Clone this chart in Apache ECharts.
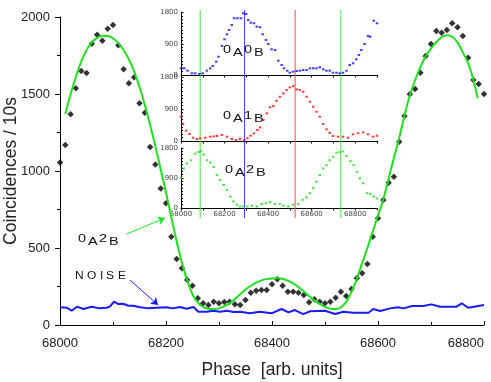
<!DOCTYPE html>
<html>
<head>
<meta charset="utf-8">
<script src="https://cdn.jsdelivr.net/npm/echarts@6/dist/echarts.min.js"></script>
<style>
  html, body { margin: 0; padding: 0; background: #fff; }
  #chart { width: 491px; height: 382px; }
</style>
</head>
<body>
<div id="chart"></div>
<script>
// main panel: measured coincidences (black diamonds)
const phase = [68000,68010,68020,68030,68040,68050,68060,68070,68080,68090,68100,68110,68120,68130,68140,68150,68160,68170,68180,68190,68200,68210,68220,68230,68240,68250,68260,68270,68280,68290,68300,68310,68320,68330,68340,68350,68360,68370,68380,68390,68400,68410,68420,68430,68440,68450,68460,68470,68480,68490,68500,68510,68520,68530,68540,68550,68560,68570,68580,68590,68600,68610,68620,68630,68640,68650,68660,68670,68680,68690,68700,68710,68720,68730,68740,68750,68760,68770,68780,68790,68800];
const counts = [1056,1169,1368,1537,1649,1636,1827,1885,1846,1924,1948,1816,1660,1569,1608,1440,1379,1156,1043,887,790,573,429,368,292,255,173,141,130,151,141,149,151,134,130,162,210,223,227,227,264,297,255,216,216,210,195,147,167,151,141,151,177,216,188,234,303,336,396,573,693,812,924,963,1190,1357,1498,1532,1638,1747,1825,1909,1898,1916,1959,1933,1877,1736,1591,1565,1500];

// fitted curve (green)
const fitPhase = [68010,68020,68030,68040,68050,68060,68070,68080,68090,68100,68110,68120,68130,68140,68150,68160,68170,68180,68190,68200,68210,68220,68230,68240,68250,68260,68270,68280,68290,68300,68320,68340,68360,68380,68400,68410,68420,68440,68460,68480,68500,68510,68520,68530,68540,68550,68560,68570,68580,68590,68600,68610,68620,68630,68640,68650,68660,68670,68680,68690,68700,68710,68720,68730,68740,68750,68760,68770,68780,68788];
const fitCounts = [1370,1500,1610,1710,1785,1835,1865,1878,1876,1862,1830,1786,1725,1645,1545,1430,1300,1160,1010,860,700,545,405,290,200,145,118,106,104,108,140,200,255,290,302,304,300,270,218,160,117,106,104,115,150,215,300,400,500,605,710,815,950,1085,1215,1360,1490,1590,1675,1745,1795,1838,1868,1882,1872,1835,1770,1700,1591,1472];

// noise (blue line)
const noisePhase = [68000,68013,68022,68032,68044,68060,68075,68088,68094,68102,68110,68119,68129,68138,68151,68167,68182,68201,68213,68226,68239,68252,68261,68277,68289,68302,68315,68327,68340,68358,68377,68399,68418,68431,68443,68459,68472,68500,68519,68535,68553,68582,68591,68604,68623,68638,68648,68664,68685,68701,68717,68748,68758,68770,68800];
const noiseCounts = [115,112,93,119,104,119,108,112,119,151,136,138,125,125,115,108,112,115,108,117,106,117,86,86,93,86,93,84,86,76,86,76,104,82,97,71,89,93,71,86,80,80,104,91,108,115,108,123,123,134,119,119,141,112,130];

// inset: 0A0B (blue)
const phaseA0B0 = [68000,68015,68030,68050,68065,68085,68100,68119,68134,68146,68162,68172,68188,68200,68211,68221,68233,68244,68259,68275,68286,68299,68309,68320,68335,68348,68363,68375,68390,68401,68416,68432,68447,68462,68473,68488,68500,68515,68531,68546,68561,68577,68592,68607,68622,68637,68653,68668,68683,68698,68714,68729,68744,68760,68775,68790,68805,68817,68828,68843,68859,68869,68885,68900];
const countsA0B0 = [193,193,124,49,49,29,49,124,193,259,383,527,836,1028,1173,1297,1441,1634,1634,1634,1778,1758,1585,1507,1490,1392,1375,1173,1009,893,740,720,412,288,193,124,66,95,115,124,144,144,193,193,193,222,164,124,124,66,66,49,66,124,288,337,452,576,720,893,1124,1104,1565,1490];

// inset: 0A1B (red)
const phaseA1B = [68000,68009,68023,68039,68055,68073,68088,68111,68134,68150,68165,68188,68211,68233,68253,68271,68290,68305,68320,68335,68351,68363,68378,68394,68409,68424,68439,68454,68470,68485,68500,68515,68531,68546,68561,68577,68592,68607,68622,68637,68653,68668,68683,68698,68721,68744,68767,68790,68813,68836,68859,68882,68900];
const countsA1B = [683,478,289,197,93,56,76,93,121,130,140,169,121,56,28,56,28,76,149,216,309,380,590,778,947,983,1132,1244,1340,1433,1508,1545,1452,1433,1385,1244,1104,963,823,683,480,330,230,140,121,121,93,188,216,244,188,121,149];

// inset: 0A2B (green)
const phaseA2B = [68000,68012,68027,68046,68065,68081,68092,68104,68119,68134,68150,68165,68180,68196,68211,68226,68241,68256,68271,68286,68305,68325,68348,68371,68390,68409,68432,68454,68470,68493,68515,68538,68558,68577,68592,68607,68622,68637,68653,68668,68683,68698,68714,68729,68744,68760,68778,68793,68808,68821,68836,68854,68869,68885,68900];
const countsA2B = [908,1187,1335,1433,1632,1680,1700,1602,1433,1365,1234,988,840,691,543,344,196,98,47,47,47,68,47,119,148,178,119,119,68,47,98,119,246,315,445,593,789,988,1187,1285,1433,1531,1662,1680,1700,1561,1404,1285,1086,890,742,445,424,344,285];

// reference phases marked across the inset
const markerPhase = [68088, 68292, 68524, 68734];
const markerColor = ['#3be83b', '#3a3aff', '#ff4a4a', '#3be83b'];

// arrows: [from, to] in data coords of the main panel
const arrowA2B = [[68126, 591], [68198, 695]];
const arrowNoise = [[68132, 292], [68185, 130]];

const zip = (xs, ys) => xs.map((x, i) => [x, ys[i]]);
const plain = v => String(v);

const chart = echarts.init(document.getElementById('chart'), null, { renderer: 'canvas' });

const insetLeft = 181, insetWidth = 196;

function insetX(idx, showLabels) {
  return {
    type: 'value', gridIndex: idx, min: 68000, max: 68900, interval: 200,
    axisLine: { show: true, onZero: false, lineStyle: { color: '#000', width: 1 } },
    axisTick: { show: true, length: 2.5, lineStyle: { color: '#000' } },
    minorTick: { show: true, splitNumber: 2, length: 2.5, lineStyle: { color: '#000' } },
    splitLine: { show: false },
    axisLabel: { show: showLabels, fontSize: 7, color: '#444', margin: 3, fontFamily: 'DejaVu Sans', formatter: plain }
  };
}
function insetY(idx) {
  return {
    type: 'value', gridIndex: idx, min: 0, max: 1800, interval: 900,
    axisLine: { show: true, lineStyle: { color: '#000', width: 1 } },
    axisTick: { show: true, inside: true, length: 2.5, lineStyle: { color: '#000' } },
    minorTick: { show: true, splitNumber: 9, length: 2, lineStyle: { color: '#000' } },
    splitLine: { show: false },
    axisLabel: { fontSize: 7, color: '#444', margin: 3, fontFamily: 'DejaVu Sans', formatter: plain }
  };
}

// labels like 0A2B: digits up, letters lowered
function stateLabel(chars, x0, top) {
  const offs = [0, 10, 21, 31];
  return chars.map((c, i) => ({
    type: 'text', x: x0 + offs[i], y: top + (i % 2 ? 3 : 0) - 2, scaleX: 1.45, z: 50,
    style: { text: c, font: '10px "Liberation Sans"', fill: '#111' }
  }));
}

const noiseLetters = [['N', 75], ['O', 87], ['I', 100], ['S', 106], ['E', 118]].map(([c, x]) => ({
  type: 'text', x: x, y: 271, scaleX: 1.2, z: 50,
  style: { text: c, font: '10px "Liberation Sans"', fill: '#111' }
}));

const markerSeries = markerPhase.map((p, i) => ({
  type: 'line', xAxisIndex: 4, yAxisIndex: 4, data: [[p, 0], [p, 1]],
  showSymbol: false, silent: true, z: 4,
  lineStyle: { color: markerColor[i], width: 1 }
}));

const option = {
  animation: false,
  backgroundColor: '#fff',
  grid: [
    { left: 60, top: 17, width: 424, height: 308, outerBoundsMode: 'none' },
    { left: insetLeft, top: 12.5, width: insetWidth, height: 62.5, outerBoundsMode: 'none' },
    { left: insetLeft, top: 77, width: insetWidth, height: 64, outerBoundsMode: 'none' },
    { left: insetLeft, top: 148, width: insetWidth, height: 60, outerBoundsMode: 'none' },
    { left: insetLeft, top: 10, width: insetWidth, height: 208, outerBoundsMode: 'none' }
  ],
  xAxis: [
    {
      type: 'value', gridIndex: 0, min: 68000, max: 68800, interval: 200,
      axisLine: { lineStyle: { color: '#000', width: 1 } },
      axisTick: { inside: true, length: 4, lineStyle: { color: '#000' } },
      minorTick: { show: true, splitNumber: 2, length: 3, lineStyle: { color: '#000' } },
      splitLine: { show: false },
      axisLabel: { fontSize: 13, color: '#222', margin: 12, fontFamily: 'Liberation Sans', formatter: plain, alignMaxLabel: 'right' },
      name: 'Phase  [arb. units]', nameLocation: 'middle', nameGap: 36, nameMoveOverlap: false,
      nameTextStyle: { fontSize: 17.5, color: '#222', fontFamily: 'Liberation Sans' }
    },
    insetX(1, false),
    insetX(2, false),
    insetX(3, true),
    { type: 'value', gridIndex: 4, min: 68000, max: 68900, show: false }
  ],
  yAxis: [
    {
      type: 'value', gridIndex: 0, min: 0, max: 2000, interval: 500,
      axisLine: { show: true, lineStyle: { color: '#000', width: 1 } },
      axisTick: { show: true, length: 5, lineStyle: { color: '#000' } },
      minorTick: { show: true, splitNumber: 2, length: 3, lineStyle: { color: '#000' } },
      splitLine: { show: false },
      axisLabel: { fontSize: 13, color: '#222', margin: 10, fontFamily: 'Liberation Sans', formatter: plain },
      name: 'Coincidences / 10s', nameLocation: 'middle', nameGap: 40, nameMoveOverlap: false,
      nameTextStyle: { fontSize: 17.5, color: '#222', fontFamily: 'Liberation Sans' }
    },
    insetY(1),
    insetY(2),
    insetY(3),
    { type: 'value', gridIndex: 4, min: 0, max: 1, show: false }
  ],
  series: [
    {
      name: 'noise', type: 'line', xAxisIndex: 0, yAxisIndex: 0,
      data: zip(noisePhase, noiseCounts), showSymbol: false,
      lineStyle: { color: '#1a1aff', width: 2 }
    },
    {
      name: 'fit', type: 'line', xAxisIndex: 0, yAxisIndex: 0,
      data: zip(fitPhase, fitCounts), showSymbol: false, smooth: 0.4,
      lineStyle: { color: '#1fe01f', width: 2 }
    },
    {
      name: 'data', type: 'scatter', xAxisIndex: 0, yAxisIndex: 0,
      data: zip(phase, counts), symbol: 'diamond', symbolSize: 6.5,
      itemStyle: { color: '#000' },
      markLine: {
        silent: true, symbol: ['none', 'arrow'], symbolSize: 7, label: { show: false },
        data: [
          [{ coord: arrowA2B[0], lineStyle: { color: '#1fe01f', width: 1, type: 'solid' } }, { coord: arrowA2B[1] }],
          [{ coord: arrowNoise[0], lineStyle: { color: '#1a1aff', width: 1, type: 'solid' } }, { coord: arrowNoise[1] }]
        ]
      }
    },
    {
      name: 'A0B0', type: 'scatter', xAxisIndex: 1, yAxisIndex: 1,
      data: zip(phaseA0B0, countsA0B0), symbol: 'rect', symbolSize: [2.5, 2],
      itemStyle: { color: '#1010ff' }, z: 5
    },
    {
      name: 'A1B', type: 'scatter', xAxisIndex: 2, yAxisIndex: 2,
      data: zip(phaseA1B, countsA1B), symbol: 'rect', symbolSize: [2.5, 2],
      itemStyle: { color: '#ff1010' }, z: 5
    },
    {
      name: 'A2B', type: 'scatter', xAxisIndex: 3, yAxisIndex: 3,
      data: zip(phaseA2B, countsA2B), symbol: 'rect', symbolSize: [2.5, 2],
      itemStyle: { color: '#20e020' }, z: 5
    },
    ...markerSeries
  ],
  graphic: [
    ...stateLabel(['0', 'A', '0', 'B'], 223, 47.5),
    ...stateLabel(['0', 'A', '1', 'B'], 223, 113),
    ...stateLabel(['0', 'A', '2', 'B'], 225, 167),
    ...stateLabel(['0', 'A', '2', 'B'], 78, 236),
    ...noiseLetters
  ]
};

chart.setOption(option);
window.onresize = function () { chart.resize(); };
</script>
</body>
</html>
